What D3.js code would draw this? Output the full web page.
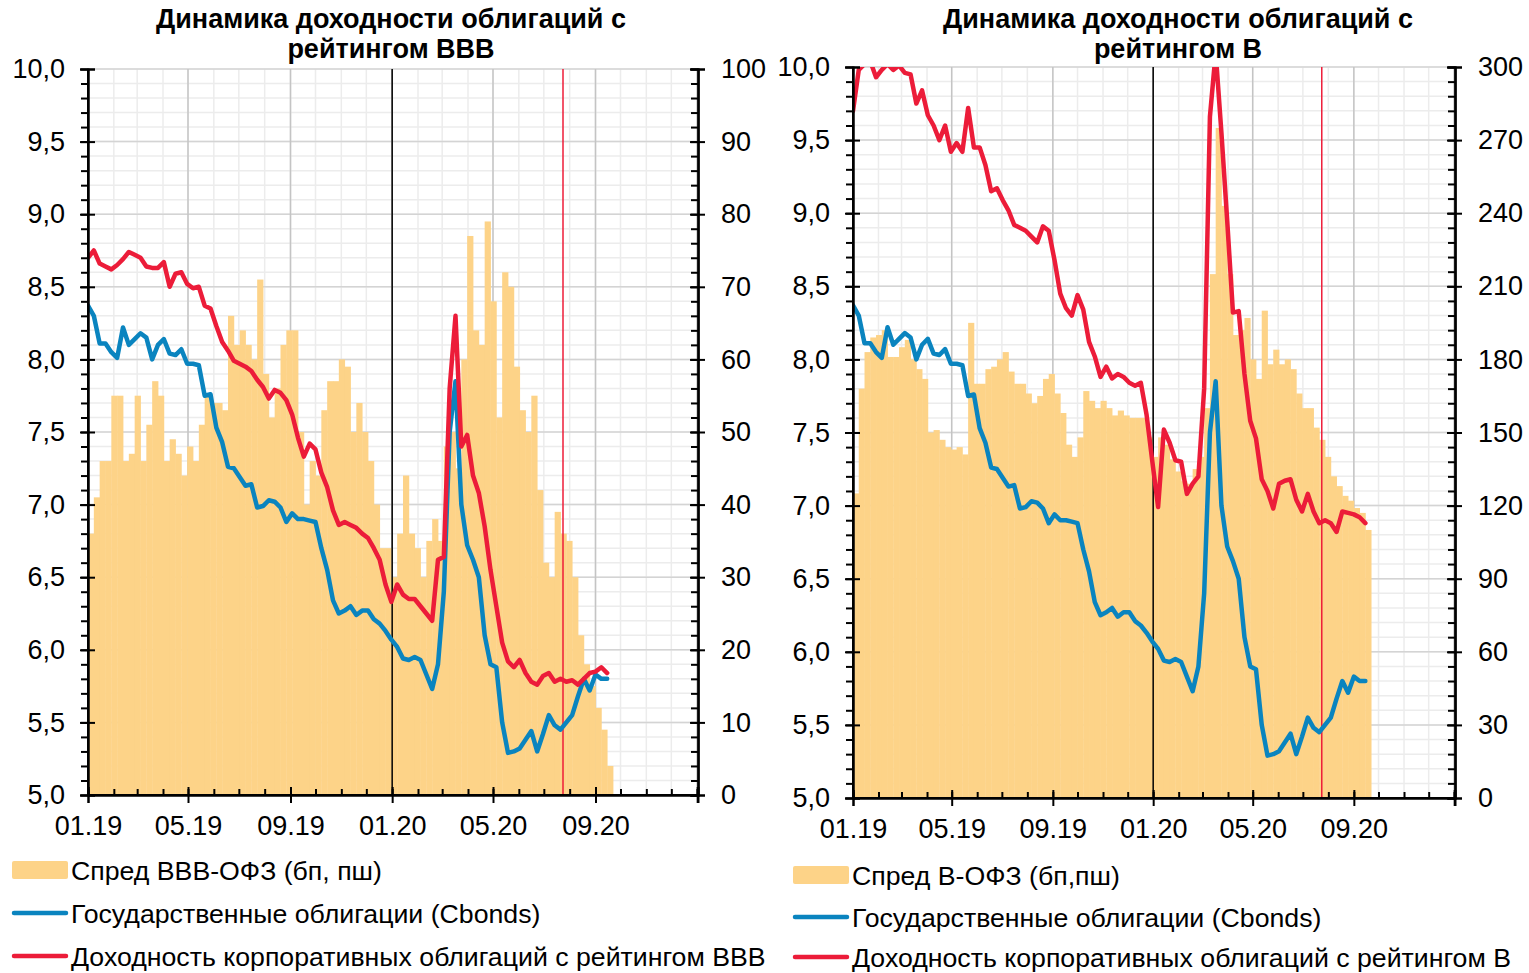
<!DOCTYPE html>
<html>
<head>
<meta charset="utf-8">
<script src="https://cdn.jsdelivr.net/npm/d3@7"></script>
<style>
  body { margin: 0; background: #fff; }
  svg text { font-family: "Liberation Sans", Arial, sans-serif; fill: #000; }
</style>
</head>
<body>
<div id="chart"></div>
<script>
'use strict';

// weekly observations, 01.01.2019 .. 14.09.2020
var dates = d3.timeDay.range(new Date(2019, 0, 1), new Date(2020, 8, 17), 7);

// доходность ОФЗ (Cbonds), %
var govYield = [8.37, 8.30, 8.11, 8.11, 8.05, 8.01, 8.22, 8.10, 8.14, 8.18,
  8.15, 8.00, 8.10, 8.14, 8.04, 8.03, 8.07, 7.97, 7.97, 7.96,
  7.75, 7.76, 7.53, 7.43, 7.26, 7.25, 7.19, 7.13, 7.14, 6.98,
  6.99, 7.03, 7.02, 6.98, 6.88, 6.94, 6.90, 6.90, 6.89, 6.88,
  6.70, 6.55, 6.34, 6.25, 6.27, 6.30, 6.24, 6.27, 6.27, 6.21,
  6.18, 6.13, 6.07, 6.02, 5.94, 5.93, 5.95, 5.93, 5.83, 5.73,
  5.90, 6.40, 7.50, 7.85, 7.00, 6.72, 6.62, 6.50, 6.10, 5.90,
  5.88, 5.50, 5.29, 5.30, 5.32, 5.38, 5.44, 5.30, 5.42, 5.55,
  5.48, 5.45, 5.50, 5.55, 5.68, 5.80, 5.72, 5.83, 5.80, 5.80];

// доходность корп. облигаций BBB, %
var corpBBB = [8.70, 8.75, 8.66, 8.64, 8.62, 8.65, 8.69, 8.74, 8.72, 8.70,
  8.64, 8.63, 8.63, 8.67, 8.50, 8.59, 8.60, 8.52, 8.49, 8.50,
  8.37, 8.35, 8.23, 8.12, 8.06, 7.99, 7.97, 7.95, 7.92, 7.86,
  7.81, 7.73, 7.79, 7.77, 7.72, 7.62, 7.46, 7.33, 7.42, 7.38,
  7.22, 7.12, 6.96, 6.86, 6.88, 6.86, 6.84, 6.80, 6.77, 6.70,
  6.62, 6.45, 6.33, 6.45, 6.38, 6.35, 6.35, 6.30, 6.25, 6.20,
  6.62, 6.64, 7.80, 8.30, 7.40, 7.48, 7.20, 7.08, 6.85, 6.55,
  6.30, 6.05, 5.92, 5.88, 5.93, 5.84, 5.78, 5.76, 5.82, 5.84,
  5.78, 5.80, 5.78, 5.79, 5.76, 5.80, 5.84, 5.85, 5.88, 5.84];

// спред BBB-ОФЗ, б.п.
var spreadBBB = [36, 41, 46, 46, 55, 55, 46, 47, 55, 46,
  51, 57, 55, 46, 49, 47, 44, 48, 46, 51,
  55, 54, 54, 53, 66, 62, 64, 62, 60, 71,
  58, 52, 56, 62, 64, 64, 50, 40, 46, 44,
  53, 57, 57, 60, 59, 50, 54, 50, 46, 40,
  34, 34, 30, 36, 44, 36, 34, 30, 35, 38,
  35, 48, 50, 45, 60, 77, 64, 62, 79, 68,
  52, 72, 70, 59, 53, 50, 55, 42, 32, 30,
  39, 36, 35, 30, 22, 18, 15, 12, 9, 4];

// доходность корп. облигаций B, %
var corpB = [9.70, 9.98, 10.02, 10.04, 9.93, 9.98, 10.02, 9.98, 10.01, 9.96,
  9.95, 9.75, 9.84, 9.67, 9.60, 9.50, 9.60, 9.42, 9.48, 9.42,
  9.72, 9.45, 9.45, 9.33, 9.15, 9.17, 9.09, 9.02, 8.92, 8.90,
  8.88, 8.84, 8.80, 8.91, 8.88, 8.68, 8.45, 8.35, 8.30, 8.44,
  8.34, 8.12, 8.02, 7.88, 7.95, 7.87, 7.90, 7.88, 7.84, 7.82,
  7.84, 7.62, 7.30, 6.99, 7.52, 7.43, 7.31, 7.30, 7.08, 7.15,
  7.20, 7.80, 9.66, 10.10, 9.55, 8.95, 8.32, 8.33, 7.90, 7.58,
  7.46, 7.18, 7.10, 6.98, 7.15, 7.17, 7.18, 7.04, 6.96, 7.08,
  6.96, 6.88, 6.90, 6.88, 6.82, 6.96, 6.95, 6.94, 6.92, 6.88];

// спред B-ОФЗ, б.п.
var spreadB = [125, 168, 183, 189, 190, 192, 181, 181, 185, 188,
  180, 176, 172, 150, 151, 147, 144, 143, 144, 141,
  195, 170, 170, 176, 177, 180, 183, 175, 170, 170,
  166, 162, 165, 172, 174, 166, 158, 145, 140, 148,
  167, 163, 160, 163, 160, 157, 159, 157, 156, 156,
  156, 148, 140, 148, 145, 139, 134, 130, 129, 135,
  140, 160, 215, 275, 243, 215, 190, 192, 197, 180,
  172, 200, 178, 184, 178, 180, 176, 166, 160, 160,
  152, 147, 140, 132, 128, 124, 122, 119, 117, 110];

var yieldTicks = [5, 5.5, 6, 6.5, 7, 7.5, 8, 8.5, 9, 9.5, 10];
var markerDates = [new Date(2020, 0, 1), new Date(2020, 6, 24)];

var bond = {};
bond.colors = {spread: '#fdd388', gov: '#0a84bf', corp: '#ec1c39', marker: ['#000', '#ee1c39']};
bond.ru = d3.formatLocale({decimal: ',', thousands: ' ', grouping: [3], currency: ['', ' ₽']});
bond.fmtY = bond.ru.format('.1f');
bond.fmtX = function (d) { return d.getFullYear() > 2020 ? '' : d3.timeFormat('%m.%y')(d); };
bond.domainX = [new Date(2019, 0, 1), new Date(2021, 0, 2)];
bond.font = 27;

bond.panels = [
  {id: 'bbb', x0: 88, x1: 698, yTop: 69, yBot: 795, sMax: 100, sStep: 10, sMinor: 2,
   corp: corpBBB, spread: spreadBBB, titleX: 391,
   title: ['Динамика доходности облигаций с', 'рейтингом BBB'],
   legX: 12, legY: [870, 913, 956],
   legend: ['Спред BBB-ОФЗ (бп, пш)', 'Государственные облигации (Cbonds)', 'Доходность корпоративных облигаций с рейтингом BBB']},
  {id: 'b', x0: 853, x1: 1455, yTop: 67, yBot: 798, sMax: 300, sStep: 30, sMinor: 6,
   corp: corpB, spread: spreadB, titleX: 1178,
   title: ['Динамика доходности облигаций с', 'рейтингом B'],
   legX: 793, legY: [875, 917, 957],
   legend: ['Спред B-ОФЗ (бп,пш)', 'Государственные облигации (Cbonds)', 'Доходность корпоративных облигаций с рейтингом B']}
];

bond.svg = d3.select('#chart').append('svg')
  .attr('width', 1529)
  .attr('height', 973);

bond.drawPanel = function (p) {
  var svg = bond.svg;
  var x = d3.scaleTime().domain(bond.domainX).range([p.x0, p.x1]);
  var y = d3.scaleLinear().domain([5, 10]).range([p.yBot, p.yTop]);
  var ys = d3.scaleLinear().domain([0, p.sMax]).range([p.yBot, p.yTop]);

  var months = d3.timeMonth.range(bond.domainX[0], new Date(2021, 0, 2));
  var major = months.filter(function (d) { return d.getMonth() % 4 === 0; });
  var minorY = d3.range(50, 101).map(function (v) { return v / 10; });

  // grid
  var grid = svg.append('g').attr('class', 'grid');
  grid.selectAll('.hmin').data(minorY).enter().append('line')
    .attr('x1', p.x0).attr('x2', p.x1)
    .attr('y1', function (d) { return y(d); }).attr('y2', function (d) { return y(d); })
    .attr('stroke', '#ececec').attr('stroke-width', 1.5);
  grid.selectAll('.vmin').data(months).enter().append('line')
    .attr('x1', function (d) { return x(d); }).attr('x2', function (d) { return x(d); })
    .attr('y1', p.yTop).attr('y2', p.yBot)
    .attr('stroke', '#ececec').attr('stroke-width', 1.5);
  grid.selectAll('.hmaj').data(yieldTicks).enter().append('line')
    .attr('x1', p.x0).attr('x2', p.x1)
    .attr('y1', function (d) { return y(d); }).attr('y2', function (d) { return y(d); })
    .attr('stroke', '#d4d4d4').attr('stroke-width', 1.5);
  grid.selectAll('.vmaj').data(major).enter().append('line')
    .attr('x1', function (d) { return x(d); }).attr('x2', function (d) { return x(d); })
    .attr('y1', p.yTop).attr('y2', p.yBot)
    .attr('stroke', '#c4c4c4').attr('stroke-width', 1.5);

  // spread columns
  svg.append('g').selectAll('rect').data(p.spread).enter().append('rect')
    .attr('x', function (d, i) { return x(dates[i]); })
    .attr('width', function (d, i) { return x(d3.timeDay.offset(dates[i], 7)) - x(dates[i]) + 0.4; })
    .attr('y', function (d) { return ys(d); })
    .attr('height', function (d) { return p.yBot - ys(d); })
    .attr('fill', bond.colors.spread);

  // event markers
  svg.append('g').selectAll('line').data(markerDates).enter().append('line')
    .attr('x1', function (d) { return x(d); }).attr('x2', function (d) { return x(d); })
    .attr('y1', p.yTop).attr('y2', p.yBot)
    .attr('stroke', function (d, i) { return bond.colors.marker[i]; })
    .attr('stroke-width', 1.5);

  // lines
  svg.append('clipPath').attr('id', 'clip-' + p.id).append('rect')
    .attr('x', p.x0).attr('y', p.yTop).attr('width', p.x1 - p.x0).attr('height', p.yBot - p.yTop);
  var line = d3.line()
    .x(function (d, i) { return x(dates[i]); })
    .y(function (d) { return y(d); });
  var lg = svg.append('g').attr('clip-path', 'url(#clip-' + p.id + ')');
  lg.append('path').datum(govYield).attr('d', line)
    .attr('fill', 'none').attr('stroke', bond.colors.gov).attr('stroke-width', 4.5)
    .attr('stroke-linejoin', 'round').attr('stroke-linecap', 'round');
  lg.append('path').datum(p.corp).attr('d', line)
    .attr('fill', 'none').attr('stroke', bond.colors.corp).attr('stroke-width', 4.5)
    .attr('stroke-linejoin', 'round').attr('stroke-linecap', 'round');

  // axes
  var axes = svg.append('g').attr('class', 'axes');
  var yMinor = axes.append('g').attr('transform', 'translate(' + p.x0 + ',0)')
    .call(d3.axisLeft(y).tickValues(minorY).tickSize(7).tickFormat(''));
  axes.append('g').attr('transform', 'translate(' + p.x0 + ',0)')
    .call(d3.axisRight(y).tickValues(yieldTicks).tickSize(7).tickFormat(''));
  axes.append('g').attr('transform', 'translate(' + p.x0 + ',0)')
    .call(d3.axisLeft(y).tickValues(yieldTicks).tickSize(8).tickPadding(15).tickFormat(bond.fmtY));

  var sTicks = d3.range(0, p.sMax + 1, p.sStep);
  var sMinor = d3.range(0, p.sMax + 1, p.sMinor);
  axes.append('g').attr('transform', 'translate(' + p.x1 + ',0)')
    .call(d3.axisLeft(ys).tickValues(sMinor).tickSize(7).tickFormat(''));
  axes.append('g').attr('transform', 'translate(' + p.x1 + ',0)')
    .call(d3.axisLeft(ys).tickValues(sTicks).tickSize(8).tickFormat(''));
  axes.append('g').attr('transform', 'translate(' + p.x1 + ',0)')
    .call(d3.axisRight(ys).tickValues(sTicks).tickSize(7).tickPadding(16));

  var xMin = axes.append('g').attr('transform', 'translate(0,' + p.yBot + ')')
    .call(d3.axisTop(x).tickValues(months.concat([new Date(2021, 0, 1)])).tickSize(6).tickFormat(''));
  axes.append('g').attr('transform', 'translate(0,' + p.yBot + ')')
    .call(d3.axisTop(x).tickValues(major).tickSize(8).tickFormat(''));
  axes.append('g').attr('transform', 'translate(0,' + p.yBot + ')')
    .call(d3.axisBottom(x).tickValues(major).tickSize(8).tickPadding(13).tickFormat(bond.fmtX));

  axes.selectAll('.domain').attr('stroke', '#000').attr('stroke-width', 2);
  axes.selectAll('.tick line').attr('stroke', '#000').attr('stroke-width', 2);
  axes.selectAll('.tick text').attr('font-size', bond.font).attr('font-family', '"Liberation Sans", Arial, sans-serif');
  yMinor.select('.domain').attr('d', 'M0,' + p.yTop + 'V' + p.yBot);
  xMin.select('.domain').attr('d', 'M' + p.x0 + ',0H' + p.x1);

  // title
  svg.append('text').attr('x', p.titleX).attr('y', 28)
    .attr('text-anchor', 'middle').attr('font-size', bond.font).attr('font-weight', 'bold')
    .text(p.title[0]);
  svg.append('text').attr('x', p.titleX).attr('y', 58)
    .attr('text-anchor', 'middle').attr('font-size', bond.font).attr('font-weight', 'bold')
    .text(p.title[1]);

  // legend
  var leg = svg.append('g').attr('class', 'legend');
  leg.append('rect').attr('x', p.legX).attr('y', p.legY[0] - 9).attr('width', 56).attr('height', 18)
    .attr('rx', 2).attr('fill', bond.colors.spread);
  leg.append('line').attr('x1', p.legX + 2).attr('x2', p.legX + 54)
    .attr('y1', p.legY[1]).attr('y2', p.legY[1])
    .attr('stroke', bond.colors.gov).attr('stroke-width', 4.5).attr('stroke-linecap', 'round');
  leg.append('line').attr('x1', p.legX + 2).attr('x2', p.legX + 54)
    .attr('y1', p.legY[2]).attr('y2', p.legY[2])
    .attr('stroke', bond.colors.corp).attr('stroke-width', 4.5).attr('stroke-linecap', 'round');
  leg.selectAll('text').data(p.legend).enter().append('text')
    .attr('x', p.legX + 59)
    .attr('y', function (d, i) { return p.legY[i] + 10; })
    .attr('font-size', 26.7)
    .text(function (d) { return d; });
};

bond.panels.forEach(bond.drawPanel);
</script>
</body>
</html>
